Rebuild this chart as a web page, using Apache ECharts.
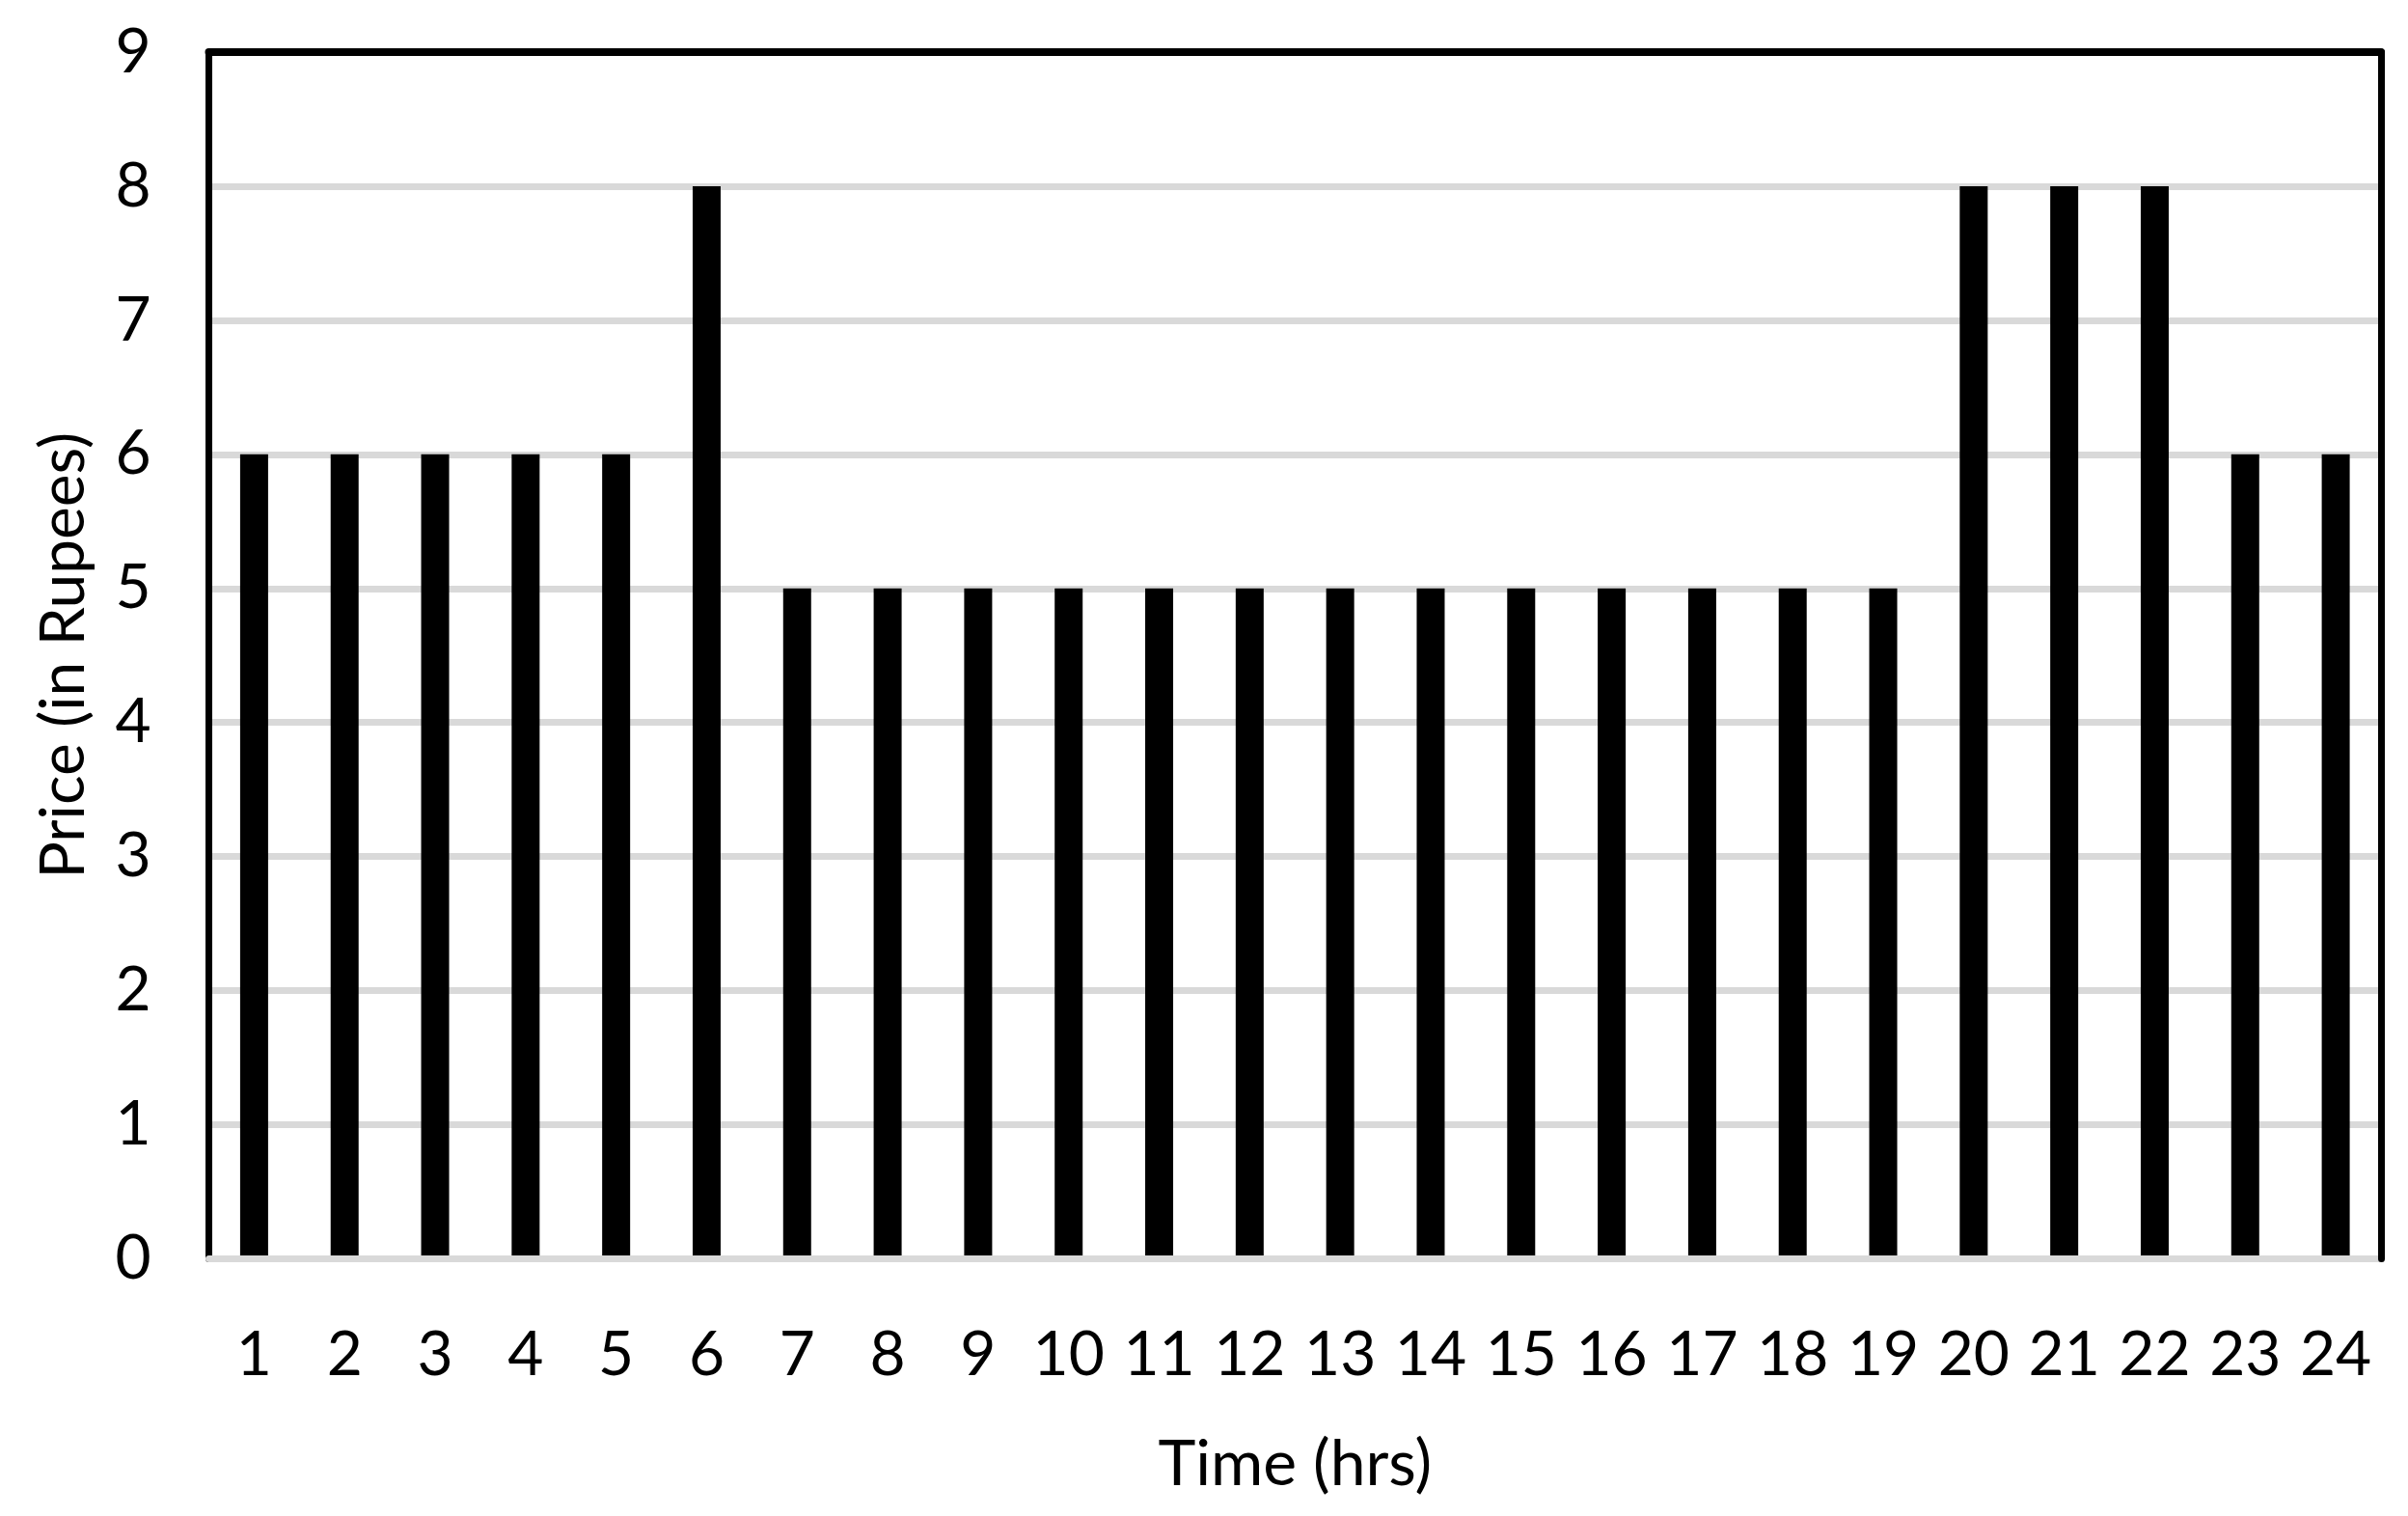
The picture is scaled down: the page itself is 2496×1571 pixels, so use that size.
<!DOCTYPE html>
<html>
<head>
<meta charset="utf-8">
<script src="https://cdn.jsdelivr.net/npm/echarts@6/dist/echarts.min.js"></script>
<style>
html,body{margin:0;padding:0;background:#fff;}
#chart{width:2496px;height:1571px;}
</style>
</head>
<body>
<div id="chart"></div>
<script>
const hours = ['1','2','3','4','5','6','7','8','9','10','11','12','13','14','15','16','17','18','19','20','21','22','23','24'];
const prices = [6,6,6,6,6,8,5,5,5,5,5,5,5,5,5,5,5,5,5,8,8,8,6,6];
const xTitle = 'Time (hrs)';
const yTitle = 'Price (in Rupees)';

const FONT = 'Lato';
const chart = echarts.init(document.getElementById('chart'), null, {renderer:'canvas'});
chart.setOption({
  backgroundColor:'#ffffff',
  animation:false,
  grid:{left:216.5, right:28, top:54, bottom:266.5, containLabel:false},
  xAxis:[{
    type:'category', data:hours, position:'bottom',
    axisLine:{show:true, lineStyle:{color:'#d9d9d9', width:7}},
    axisTick:{show:false},
    axisLabel:{color:'#000', fontSize:64, fontFamily:FONT, margin:68, interval:0},
    name:xTitle, nameLocation:'middle', nameGap:180,
    nameTextStyle:{color:'#000', fontSize:66, fontFamily:FONT},
    z:5
  },{
    type:'category', data:hours, position:'top',
    axisLine:{show:true, onZero:false, lineStyle:{color:'#000', width:8}},
    axisTick:{show:false}, axisLabel:{show:false}, splitLine:{show:false},
    z:6
  }],
  yAxis:[{
    type:'value', min:0, max:9, interval:1, position:'left',
    axisLine:{show:true, onZero:false, lineStyle:{color:'#000', width:7}},
    axisTick:{show:false},
    axisLabel:{color:'#000', fontSize:64, fontFamily:FONT, margin:60},
    splitLine:{show:true, lineStyle:{color:'#d9d9d9', width:7}},
    name:yTitle, nameLocation:'middle', nameGap:118,
    nameTextStyle:{color:'#000', fontSize:64, fontFamily:FONT},
    z:0
  },{
    type:'value', min:0, max:9, interval:1, position:'right',
    axisLine:{show:true, onZero:false, lineStyle:{color:'#000', width:7}},
    axisTick:{show:false}, axisLabel:{show:false}, splitLine:{show:false},
    z:6
  }],
  series:[{
    type:'bar', data:prices, barWidth:29,
    itemStyle:{color:'#000'},
    xAxisIndex:0, yAxisIndex:0, z:2
  }]
});
</script>
</body>
</html>
